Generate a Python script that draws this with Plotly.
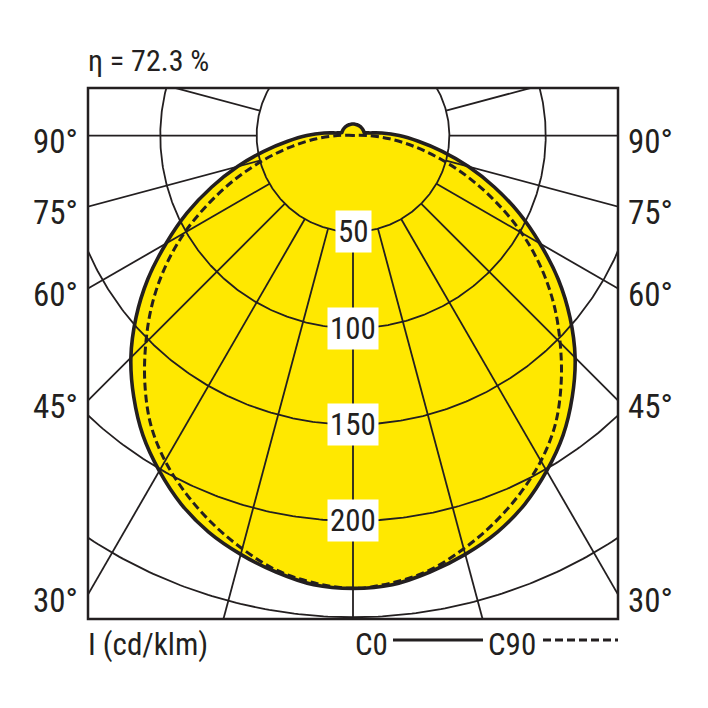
import numpy as np
import plotly.graph_objects as go

# light distribution curve, intensity in cd/klm over the gamma angle (deg)
gamma = [0, 5, 10, 15, 20, 25, 30, 35, 40, 45, 50, 55, 60, 65, 70, 75, 80, 85, 90,
         95, 100, 105, 110, 115, 120, 125, 130, 135, 140, 145, 150, 155, 160, 165, 170, 175, 180]
c0 = [235, 234, 230, 225, 219, 211, 201, 190, 177, 163, 147, 130, 112, 95, 78, 62, 47, 34, 24,
      15, 8, 6, 6, 6, 6, 6, 6, 6, 6, 6, 6, 6, 6, 6, 6, 6, 6]
c90 = [235, 233, 229, 222, 214, 205, 195, 183, 168, 152, 136, 119, 101, 82, 64, 47, 32, 19, 8,
       2, 0, 0, 0, 0, 0, 0, 0, 0, 0, 0, 0, 0, 0, 0, 0, 0, 0]

rings = [50, 100, 150, 200, 250, 300]
ring_labels = ["50", "100", "150", "200"]
spokes = list(range(-180, 181, 15))
side_angles = [90, 75, 60, 45, 30]
efficiency = "η = 72.3 %"
unit_text = "I (cd/klm)"
legend_names = ["C0", "C90"]

INK = "#231f20"
YELLOW = "#ffe800"
FONT = "Liberation Sans Narrow, Arial Narrow, Roboto Condensed, DejaVu Sans Condensed, sans-serif"

XR = 137.5
YTOP, YBOT = 24.7, -250.9


def full_curve(vals):
    # mirror the half plane to get C0/C180 (or C90/C270)
    g = np.array(gamma, dtype=float)
    v = np.array(vals, dtype=float)
    ang = np.concatenate([-g[::-1], g[1:]])
    r = np.concatenate([v[::-1], v[1:]])
    t = np.radians(ang)
    return r * np.sin(t), -r * np.cos(t)


fig = go.Figure()

# yellow area of the C0 curve
x0, y0 = full_curve(c0)
fig.add_trace(go.Scatter(x=x0, y=y0, mode="lines", fill="toself", fillcolor=YELLOW,
                         line=dict(width=0, color=YELLOW, shape="spline", smoothing=1),
                         hoverinfo="skip"))

# rings
t = np.radians(np.linspace(0, 360, 721))
gx, gy = [], []
for r in rings:
    gx += list(r * np.sin(t)) + [None]
    gy += list(-r * np.cos(t)) + [None]
# spokes start at the first ring
for a in spokes:
    s = np.radians(a)
    gx += [50 * np.sin(s), 400 * np.sin(s), None]
    gy += [-50 * np.cos(s), -400 * np.cos(s), None]
fig.add_trace(go.Scatter(x=gx, y=gy, mode="lines", line=dict(color=INK, width=1.8),
                         hoverinfo="skip"))

# curves
x90, y90 = full_curve(c90)
fig.add_trace(go.Scatter(x=x90, y=y90, mode="lines",
                         line=dict(color=INK, width=3, dash="8px,4px", shape="spline", smoothing=1),
                         hoverinfo="skip"))
fig.add_trace(go.Scatter(x=x0, y=y0, mode="lines",
                         line=dict(color=INK, width=3.6, shape="spline", smoothing=1),
                         hoverinfo="skip"))

ann = []
for lab in ring_labels:
    ann.append(dict(x=0, y=-float(lab), xref="x", yref="y", text=lab, showarrow=False,
                    bgcolor="white", borderpad=2, font=dict(size=31, color=INK, family=FONT)))

for a in side_angles:
    yv = -XR / np.tan(np.radians(a)) if a != 90 else 0.0
    for side in (-1, 1):
        ann.append(dict(x=0 if side < 0 else 1, y=yv, xref="paper", yref="y",
                        text=f"{a}°", showarrow=False,
                        xanchor="right" if side < 0 else "left", yanchor="middle",
                        xshift=-8 if side < 0 else 8, yshift=-6,
                        font=dict(size=33, color=INK, family=FONT)))

ann.append(dict(x=0, y=1, xref="paper", yref="paper", text=efficiency, showarrow=False,
                xanchor="left", yanchor="middle", yshift=28, xshift=-2,
                font=dict(size=30, color=INK, family=FONT)))
ann.append(dict(x=0, y=0, xref="paper", yref="paper", text=unit_text, showarrow=False,
                xanchor="left", yanchor="middle", yshift=-25, xshift=-2,
                font=dict(size=31, color=INK, family=FONT)))


def px(p):
    return (p - 88) / 530


ann.append(dict(x=px(353), y=0, xref="paper", yref="paper", text=legend_names[0],
                showarrow=False, xanchor="left", yanchor="middle", yshift=-25,
                font=dict(size=31, color=INK, family=FONT)))
ann.append(dict(x=px(486), y=0, xref="paper", yref="paper", text=legend_names[1],
                showarrow=False, xanchor="left", yanchor="middle", yshift=-25,
                font=dict(size=31, color=INK, family=FONT)))

ly = -21 / 531
shapes = [
    dict(type="rect", xref="paper", yref="paper", x0=0, x1=1, y0=0, y1=1,
         line=dict(color=INK, width=2.5)),
    dict(type="line", xref="paper", yref="paper", x0=px(393), x1=px(483), y0=ly, y1=ly,
         line=dict(color=INK, width=3)),
    dict(type="line", xref="paper", yref="paper", x0=px(543), x1=px(618), y0=ly, y1=ly,
         line=dict(color=INK, width=3, dash="8px,4px")),
]

# page body adds an 8px offset, so the figure is 700 wide with margins reduced by 8
fig.update_layout(
    width=700, height=700,
    margin=dict(l=80, r=90, t=80, b=89),
    paper_bgcolor="white", plot_bgcolor="white",
    showlegend=False,
    xaxis=dict(range=[-XR, XR], visible=False, fixedrange=True),
    yaxis=dict(range=[YBOT, YTOP], visible=False, fixedrange=True),
    annotations=ann, shapes=shapes,
)

fig.write_html("out.html")
